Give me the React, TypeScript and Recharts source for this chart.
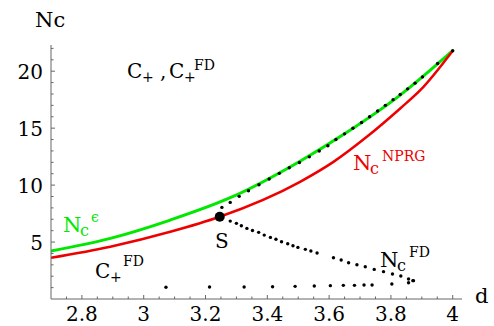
import { ComposedChart, Line, Scatter, XAxis, YAxis } from 'recharts';

// N_c^epsilon (green)
const epsD = [2.7, 2.892, 3.086, 3.28, 3.506, 3.65, 3.83, 4.0];
const epsN = [4.21, 5.32, 6.93, 8.89, 12.1, 14.5, 17.9, 21.8];

// N_c^NPRG (red)
const nprgD = [2.7, 2.892, 3.086, 3.246, 3.506, 3.614, 3.722, 3.83, 3.895, 4.0];
const nprgN = [3.62, 4.59, 5.9, 7.22, 10.29, 12.04, 14.24, 16.73, 18.33, 21.8];

// upper dotted branch, from S to the top
const upD = [3.253, 3.28, 3.309, 3.339, 3.373, 3.406, 3.439, 3.471, 3.504, 3.536, 3.568, 3.596, 3.622, 3.65, 3.677, 3.705, 3.731, 3.757, 3.782, 3.807, 3.83, 3.854, 3.878, 3.902, 3.951, 4.0];
const upN = [8.04, 8.48, 9.01, 9.5, 10.03, 10.53, 11.03, 11.52, 11.99, 12.48, 13.0, 13.45, 14.0, 14.5, 15.0, 15.5, 16.0, 16.5, 17.0, 17.5, 17.95, 18.45, 18.95, 19.5, 20.67, 21.8];

// lower dotted branch N_c^FD, from S down
const fdD = [3.28, 3.3, 3.316, 3.334, 3.352, 3.372, 3.39, 3.41, 3.428, 3.446, 3.466, 3.483, 3.499, 3.523, 3.541, 3.561, 3.614, 3.639, 3.663, 3.69, 3.717, 3.746, 3.776, 3.805, 3.832, 3.857, 3.871];
const fdN = [6.84, 6.64, 6.43, 6.2, 6.02, 5.85, 5.61, 5.41, 5.24, 5.03, 4.85, 4.68, 4.53, 4.36, 4.21, 4.04, 3.62, 3.42, 3.18, 3.01, 2.83, 2.6, 2.4, 2.19, 2.02, 1.75, 1.61];

// bottom row of dots
const lowD = [3.072, 3.213, 3.325, 3.417, 3.49, 3.552, 3.604, 3.646, 3.682, 3.713, 3.739, 3.803, 3.857, 3.873];
const lowN = [1.03, 1.05, 1.05, 1.08, 1.11, 1.14, 1.17, 1.2, 1.2, 1.23, 1.23, 1.32, 1.43, 1.61];

// point S
const sD = [3.246];
const sN = [7.22];

const xMajor = [2.8, 3, 3.2, 3.4, 3.6, 3.8, 4];
const yMajor = [5, 10, 15, 20];

const xTicks: number[] = [];
for (let k = 1; k <= 26; k++) xTicks.push(Math.round((2.7 + k * 0.05) * 100) / 100);
const yTicks: number[] = [];
for (let k = 1; k <= 22; k++) yTicks.push(k);

const zip = (xs: number[], ys: number[]) => xs.map((x, i) => ({ x, y: ys[i] }));

const AXIS = '#666';
const serif = { fontFamily: "'DejaVu Serif', 'Liberation Serif', serif" };

const XTick = (props: any) => {
    const { x, y, payload } = props;
    const v = payload.value;
    const major = xMajor.some((m) => Math.abs(m - v) < 1e-6);
    return (
        <g>
            <line x1={x} x2={x} y1={y} y2={y - (major ? 4 : 2.5)} stroke={AXIS} />
            {major && (
                <text x={x} y={y + 22} textAnchor="middle" style={serif} fontSize={20} fill="#000">
                    {String(v)}
                </text>
            )}
        </g>
    );
};

const YTick = (props: any) => {
    const { x, y, payload } = props;
    const v = payload.value;
    const major = yMajor.includes(v);
    return (
        <g>
            <line x1={x} x2={x + (major ? 4 : 2.5)} y1={y} y2={y} stroke={AXIS} />
            {major && (
                <text x={x - 8} y={y + 8} textAnchor="end" style={serif} fontSize={20} fill="#000">
                    {String(v)}
                </text>
            )}
        </g>
    );
};

const dot = (r: number) => (p: any) => <circle cx={p.cx} cy={p.cy} r={r} fill="#000" />;

export default function App() {
    return (
        <div style={{ position: 'absolute', left: 0, top: 0, width: 494, height: 326, background: '#fff' }}>
            <ComposedChart width={494} height={326} margin={{ top: 45, right: 32, bottom: 0, left: 0 }}>
                <XAxis
                    type="number"
                    dataKey="x"
                    domain={[2.7, 4.03]}
                    ticks={xTicks}
                    allowDataOverflow
                    height={27}
                    tickSize={0}
                    tickMargin={0}
                    tickLine={false}
                    axisLine={{ stroke: AXIS }}
                    tick={XTick}
                    interval={0}
                />
                <YAxis
                    type="number"
                    dataKey="y"
                    domain={[0, 22.3]}
                    ticks={yTicks}
                    allowDataOverflow
                    width={51}
                    tickSize={0}
                    tickMargin={0}
                    tickLine={false}
                    axisLine={{ stroke: AXIS }}
                    tick={YTick}
                    interval={0}
                />
                <Line data={zip(epsD, epsN)} dataKey="y" type="monotone" stroke="#00e800" strokeWidth={3} dot={false} isAnimationActive={false} />
                <Line data={zip(nprgD, nprgN)} dataKey="y" type="monotone" stroke="#ee0000" strokeWidth={2.5} dot={false} isAnimationActive={false} />
                <Scatter data={zip(upD, upN)} shape={dot(1.7)} isAnimationActive={false} />
                <Scatter data={zip(fdD, fdN)} shape={dot(1.7)} isAnimationActive={false} />
                <Scatter data={zip(lowD, lowN)} shape={dot(1.7)} isAnimationActive={false} />
                <Scatter data={zip(sD, sN)} shape={dot(5)} isAnimationActive={false} />
            </ComposedChart>
            <svg width={494} height={326} style={{ position: 'absolute', left: 0, top: 0, pointerEvents: 'none', ...serif }}>
                <text x={35} y={27} fontSize={21}>Nc</text>
                <text x={475} y={303} fontSize={21}>d</text>

                <text x={127} y={78} fontSize={20}>C</text>
                <text x={142} y={82} fontSize={14}>+</text>
                <text x={160} y={78} fontSize={20}>,</text>
                <text x={169} y={78} fontSize={20}>C</text>
                <text x={184} y={82} fontSize={14}>+</text>
                <text x={194} y={70} fontSize={14}>FD</text>

                <g fill="#00e800">
                    <text x={63} y={232} fontSize={21}>N</text>
                    <text x={80} y={236} fontSize={16}>c</text>
                    <text x={91} y={222} fontSize={14}>ϵ</text>
                </g>

                <g fill="#ee0000">
                    <text x={353} y={170} fontSize={21}>N</text>
                    <text x={370} y={174} fontSize={16}>c</text>
                    <text x={382} y={161} fontSize={14}>NPRG</text>
                </g>

                <text x={380} y={267} fontSize={21}>N</text>
                <text x={397} y={271} fontSize={16}>c</text>
                <text x={409} y={257} fontSize={14}>FD</text>

                <text x={95} y={278} fontSize={20}>C</text>
                <text x={110} y={282} fontSize={14}>+</text>
                <text x={123} y={266} fontSize={14}>FD</text>

                <text x={215} y={248} fontSize={20}>S</text>
            </svg>
        </div>
    );
}
